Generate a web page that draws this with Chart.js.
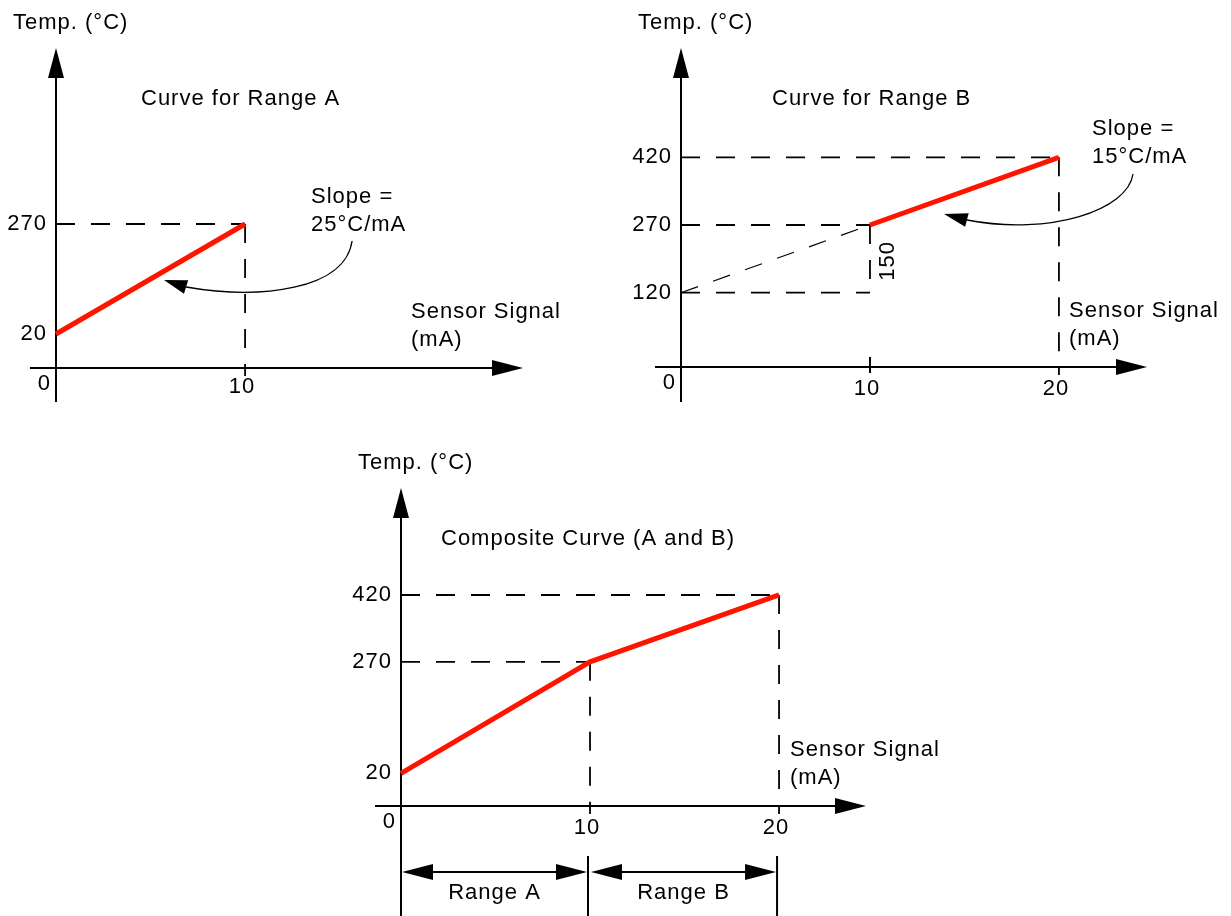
<!DOCTYPE html>
<html>
<head>
<meta charset="utf-8">
<title>Temperature vs Sensor Signal</title>
<script src="https://cdn.jsdelivr.net/npm/chart.js@4/dist/chart.umd.min.js"></script>
<style>
    html, body { margin: 0; padding: 0; background: #fff; }
    #wrap { position: relative; width: 1231px; height: 916px; }
    #wrap canvas { position: absolute; left: 0; top: 0; }
</style>
</head>
<body>
<div id="wrap">
    <canvas id="chartA" width="1231" height="916"></canvas>
    <canvas id="chartB" width="1231" height="916"></canvas>
    <canvas id="chartC" width="1231" height="916"></canvas>
</div>
<script>
// Curve data (sensor signal in mA, temperature in °C)
const signalA = [0, 10];
const tempA = [20, 270];
const signalB = [10, 20];
const tempB = [270, 420];
const signalC = [0, 10, 20];
const tempC = [20, 270, 420];

// Range B extended back to 0 mA
const extSignalB = [0, 10];
const extTempB = [120, 270];

// Tick labels
const xTicksA = [0, 10];
const yTicksA = [20, 270];
const xTicksB = [0, 10, 20];
const yTicksB = [120, 270, 420];
const xTicksC = [0, 10, 20];
const yTicksC = [20, 270, 420];

// Ranges under the composite curve
const rangeBounds = [0, 10, 20];
const rangeNames = ['Range A', 'Range B'];

const FONT = '22px "Liberation Sans", Arial, Helvetica, sans-serif';
const RED = '#ff1400';
const W = 1231, H = 916;

const panelConfigs = {};

function toPoints(xs, ys) {
    return xs.map((v, i) => ({ x: v, y: ys[i] }));
}

function slopeOf(xs, ys) {
    return (ys[ys.length - 1] - ys[0]) / (xs[xs.length - 1] - xs[0]);
}

function setFont(ctx) {
    ctx.font = FONT;
    ctx.letterSpacing = '1px';
}

// Filled triangle, (dx, dy) = direction towards the tip
function arrowHead(ctx, tx, ty, dx, dy, len, half) {
    const n = Math.hypot(dx, dy);
    dx /= n; dy /= n;
    const bx = tx - dx * len, by = ty - dy * len;
    ctx.beginPath();
    ctx.moveTo(tx, ty);
    ctx.lineTo(bx - dy * half, by + dx * half);
    ctx.lineTo(bx + dy * half, by - dx * half);
    ctx.closePath();
    ctx.fill();
}

function drawAxes(chart, cfg) {
    const { ctx, chartArea: a, scales: { x } } = chart;
    const x0 = x.getPixelForValue(0);
    ctx.save();
    ctx.strokeStyle = '#000';
    ctx.fillStyle = '#000';
    ctx.lineWidth = 2;
    ctx.beginPath();
    ctx.moveTo(x0, a.top + 28);
    ctx.lineTo(x0, a.bottom + cfg.yTail);
    ctx.stroke();
    arrowHead(ctx, x0, a.top, 0, -1, 30, 8);
    ctx.beginPath();
    ctx.moveTo(x0 - 26, a.bottom);
    ctx.lineTo(a.right - 28, a.bottom);
    ctx.stroke();
    arrowHead(ctx, a.right, a.bottom, 1, 0, 31, 8);
    (cfg.axisTicks || []).forEach(v => {
        const px = x.getPixelForValue(v);
        ctx.beginPath();
        ctx.moveTo(px, a.bottom - 10);
        ctx.lineTo(px, a.bottom + 6);
        ctx.stroke();
    });
    ctx.restore();
}

// Dashed guide lines to the axes
function drawGuides(chart, cfg) {
    const { ctx, chartArea: a, scales: { x, y } } = chart;
    const x0 = x.getPixelForValue(0);
    ctx.save();
    ctx.strokeStyle = '#000';
    ctx.lineWidth = 1.8;
    ctx.setLineDash([19, 16]);
    cfg.hGuides.forEach(g => {
        ctx.beginPath();
        ctx.moveTo(x0, y.getPixelForValue(g.y));
        ctx.lineTo(x.getPixelForValue(g.x), y.getPixelForValue(g.y));
        ctx.stroke();
    });
    cfg.vGuides.forEach(g => {
        const px = x.getPixelForValue(g.x);
        ctx.beginPath();
        ctx.moveTo(px, y.getPixelForValue(g.from));
        ctx.lineTo(px, g.to === null ? a.bottom + 8 : y.getPixelForValue(g.to));
        ctx.stroke();
    });
    ctx.restore();
}

function drawLabels(chart, cfg) {
    const { ctx, chartArea: a, scales: { x, y } } = chart;
    const x0 = x.getPixelForValue(0);
    ctx.save();
    ctx.fillStyle = '#000';
    setFont(ctx);

    // y tick labels
    ctx.textAlign = 'right';
    ctx.textBaseline = 'middle';
    cfg.yTicks.forEach(v => ctx.fillText(String(v), x0 - 9, y.getPixelForValue(v)));

    // x tick labels
    ctx.textBaseline = 'alphabetic';
    cfg.xTicks.forEach(v => {
        if (v === 0) {
            ctx.textAlign = 'right';
            ctx.fillText('0', x0 - 5, a.bottom + 22);
        } else {
            ctx.textAlign = 'center';
            ctx.fillText(String(v), x.getPixelForValue(v) - 3, a.bottom + cfg.xLabelDrop);
        }
    });

    // axis titles and chart title
    ctx.textAlign = 'left';
    ctx.fillText('Temp. (°C)', a.left - 43, a.top - 19);
    ctx.fillText('Sensor Signal', a.left + cfg.signalDx, a.bottom - 50);
    ctx.fillText('(mA)', a.left + cfg.signalDx, a.bottom - 22);
    ctx.fillText(cfg.title, a.left + cfg.titleDx, a.top + 57);

    if (cfg.slope) {
        ctx.fillText('Slope =', a.left + cfg.slope.dx, a.top + cfg.slope.dy);
        ctx.fillText(cfg.slope.value + '°C/mA', a.left + cfg.slope.dx, a.top + cfg.slope.dy + 28);
    }

    // rise label for the extended line of range B
    if (cfg.rise) {
        const cx = x.getPixelForValue(cfg.rise.x) + 18;
        const cy = (y.getPixelForValue(cfg.rise.from) + y.getPixelForValue(cfg.rise.to)) / 2 + 2;
        ctx.save();
        ctx.translate(cx, cy);
        ctx.rotate(-Math.PI / 2);
        ctx.textAlign = 'center';
        ctx.textBaseline = 'middle';
        ctx.fillText(String(cfg.rise.to - cfg.rise.from), 0, 0);
        ctx.restore();
    }
    ctx.restore();
}

// Curved arrow from the slope text to the line
function drawCallout(chart, cfg) {
    if (!cfg.callout) return;
    const { ctx, scales: { x, y } } = chart;
    const p = cfg.callout.path.map(q => [x.getPixelForValue(q[0]), y.getPixelForValue(q[1])]);
    const t = [x.getPixelForValue(cfg.callout.tip[0]), y.getPixelForValue(cfg.callout.tip[1])];
    ctx.save();
    ctx.strokeStyle = '#000';
    ctx.fillStyle = '#000';
    ctx.lineWidth = 1.3;
    ctx.beginPath();
    ctx.moveTo(p[0][0], p[0][1]);
    ctx.bezierCurveTo(p[1][0], p[1][1], p[2][0], p[2][1], p[3][0], p[3][1]);
    ctx.stroke();
    const len = Math.hypot(t[0] - p[3][0], t[1] - p[3][1]);
    arrowHead(ctx, t[0], t[1], t[0] - p[3][0], t[1] - p[3][1], len, 7);
    ctx.restore();
}

// Range A / Range B dimension arrows below the axis
function drawRanges(chart, cfg) {
    if (!cfg.ranges) return;
    const { ctx, chartArea: a, scales: { x } } = chart;
    const yy = a.bottom + 66;
    ctx.save();
    ctx.strokeStyle = '#000';
    ctx.fillStyle = '#000';
    ctx.lineWidth = 2;
    cfg.ranges.bounds.forEach(v => {
        if (v === 0) return;
        const px = x.getPixelForValue(v) - 2;
        ctx.beginPath();
        ctx.moveTo(px, a.bottom + 50);
        ctx.lineTo(px, H);
        ctx.stroke();
    });
    setFont(ctx);
    ctx.textAlign = 'center';
    cfg.ranges.names.forEach((name, i) => {
        const xl = x.getPixelForValue(cfg.ranges.bounds[i]) + 1;
        const xr = x.getPixelForValue(cfg.ranges.bounds[i + 1]) - 3;
        ctx.beginPath();
        ctx.moveTo(xl + 28, yy);
        ctx.lineTo(xr - 28, yy);
        ctx.stroke();
        arrowHead(ctx, xl, yy, -1, 0, 31, 8);
        arrowHead(ctx, xr, yy, 1, 0, 31, 8);
        ctx.fillText(name, (xl + xr) / 2, a.bottom + 93);
    });
    ctx.restore();
}

const diagramPlugin = {
    id: 'diagram',
    beforeDatasetsDraw(chart) {
        const cfg = panelConfigs[chart.canvas.id];
        drawAxes(chart, cfg);
        drawGuides(chart, cfg);
    },
    afterDatasetsDraw(chart) {
        const cfg = panelConfigs[chart.canvas.id];
        drawLabels(chart, cfg);
        drawCallout(chart, cfg);
        drawRanges(chart, cfg);
    }
};

function redLine(points) {
    return {
        data: points,
        borderColor: RED,
        borderWidth: 5,
        borderCapStyle: 'butt',
        pointRadius: 0,
        tension: 0,
        clip: false
    };
}

function makePanel(id, cfg, datasets) {
    panelConfigs[id] = cfg;
    const a = cfg.area;
    new Chart(document.getElementById(id), {
        type: 'line',
        data: { datasets: datasets },
        options: {
            responsive: false,
            animation: false,
            events: [],
            layout: { padding: { left: a.left, top: a.top, right: W - a.right, bottom: H - a.bottom } },
            scales: {
                x: { type: 'linear', display: false, min: 0, max: cfg.xMax },
                y: { type: 'linear', display: false, min: cfg.yMin, max: cfg.yMax }
            },
            plugins: { legend: { display: false }, tooltip: { enabled: false } }
        },
        plugins: [diagramPlugin]
    });
}

document.addEventListener('DOMContentLoaded', function() {
    // Curve for Range A
    makePanel('chartA', {
        area: { left: 56, top: 48, right: 523, bottom: 368 },
        xMax: 24.7, yMin: -57.3, yMax: 670,
        yTail: 34, xLabelDrop: 25,
        xTicks: xTicksA, yTicks: yTicksA,
        title: 'Curve for Range A', titleDx: 85, signalDx: 355,
        hGuides: [{ x: signalA[1], y: tempA[1] }],
        vGuides: [{ x: signalA[1], from: tempA[1], to: null }],
        slope: { value: slopeOf(signalA, tempA), dx: 255, dy: 155 },
        callout: {
            path: [[15.66, 231.4], [15.29, 120.0], [10.79, 97.3], [6.88, 126.8]],
            tip: [5.71, 142.7]
        }
    }, [redLine(toPoints(signalA, tempA))]);

    // Curve for Range B
    const extLine = redLine(toPoints(extSignalB, extTempB));
    extLine.borderColor = '#000';
    extLine.borderWidth = 1.2;
    extLine.borderDash = [18, 16];
    makePanel('chartB', {
        area: { left: 681, top: 48, right: 1147, bottom: 367 },
        xMax: 24.66, yMin: -44.6, yMax: 662.2,
        yTail: 35, xLabelDrop: 28,
        xTicks: xTicksB, yTicks: yTicksB, axisTicks: [signalB[0]],
        title: 'Curve for Range B', titleDx: 91, signalDx: 388,
        hGuides: [
            { x: signalB[1], y: tempB[1] },
            { x: signalB[0], y: tempB[0] },
            { x: extSignalB[1], y: extTempB[0] }
        ],
        vGuides: [
            { x: signalB[1], from: tempB[1], to: null },
            { x: signalB[0], from: tempB[0], to: extTempB[0] }
        ],
        slope: { value: slopeOf(signalB, tempB), dx: 411, dy: 87 },
        rise: { x: extSignalB[1], from: extTempB[0], to: extTempB[1] },
        callout: {
            path: [[23.92, 383.0], [23.65, 303.2], [19.52, 245.6], [15.13, 281.1]],
            tip: [13.92, 294.4]
        }
    }, [extLine, redLine(toPoints(signalB, tempB))]);

    // Composite Curve (A and B)
    makePanel('chartC', {
        area: { left: 401, top: 488, right: 866, bottom: 806 },
        xMax: 24.6, yMin: -53.4, yMax: 660,
        yTail: 110, xLabelDrop: 28,
        xTicks: xTicksC, yTicks: yTicksC,
        title: 'Composite Curve (A and B)', titleDx: 40, signalDx: 389,
        hGuides: [{ x: signalC[2], y: tempC[2] }, { x: signalC[1], y: tempC[1] }],
        vGuides: [
            { x: signalC[2], from: tempC[2], to: null },
            { x: signalC[1], from: tempC[1], to: null }
        ],
        ranges: { bounds: rangeBounds, names: rangeNames }
    }, [redLine(toPoints(signalC, tempC))]);
});
</script>
</body>
</html>
